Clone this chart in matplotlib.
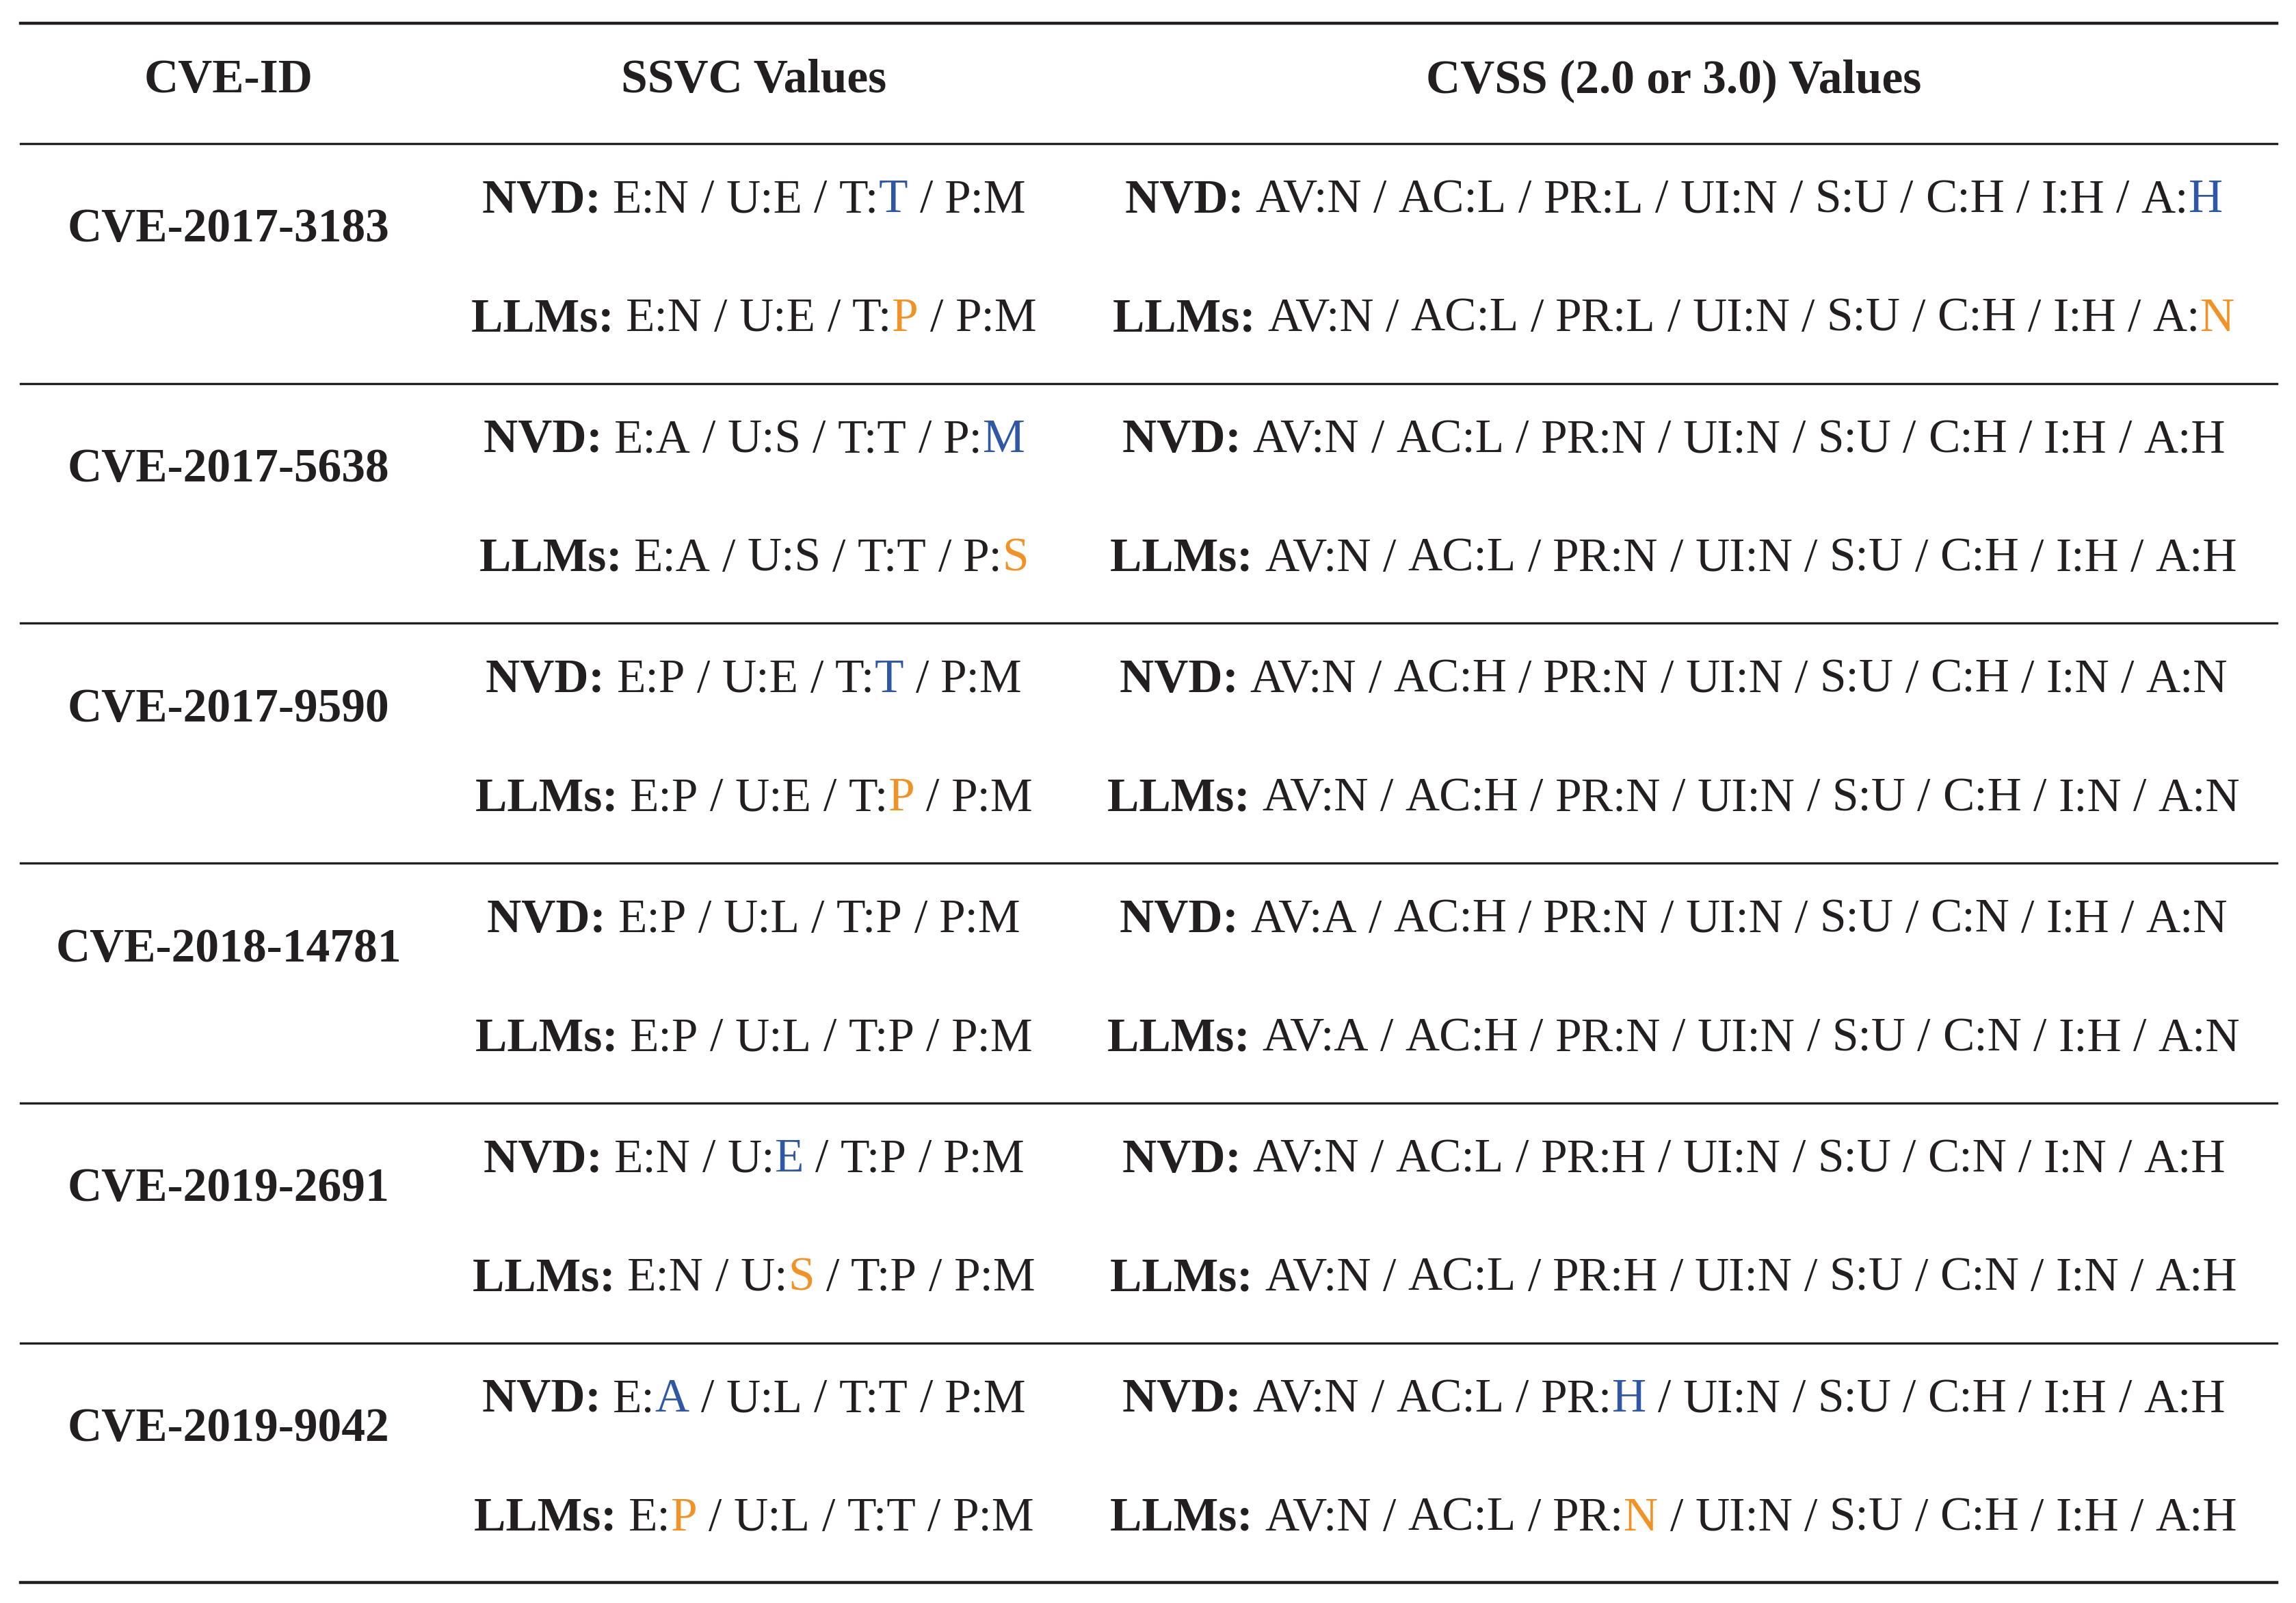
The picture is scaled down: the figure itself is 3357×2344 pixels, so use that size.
import matplotlib
matplotlib.use("Agg")
import matplotlib.pyplot as plt
from matplotlib.lines import Line2D

plt.rcParams['font.family'] = ['Liberation Serif', 'DejaVu Serif']

# -----------------------------------------------------------
# DATA
# -----------------------------------------------------------
headers = ["CVE-ID", "SSVC Values", "CVSS (2.0 or 3.0) Values"]
cve_ids = ["CVE-2017-3183", "CVE-2017-5638", "CVE-2017-9590",
           "CVE-2018-14781", "CVE-2019-2691", "CVE-2019-9042"]
ssvc_nvd = ["E:N/U:E/T:T/P:M", "E:A/U:S/T:T/P:M", "E:P/U:E/T:T/P:M",
            "E:P/U:L/T:P/P:M", "E:N/U:E/T:P/P:M", "E:A/U:L/T:T/P:M"]
ssvc_llm = ["E:N/U:E/T:P/P:M", "E:A/U:S/T:T/P:S", "E:P/U:E/T:P/P:M",
            "E:P/U:L/T:P/P:M", "E:N/U:S/T:P/P:M", "E:P/U:L/T:T/P:M"]
cvss_nvd = ["AV:N/AC:L/PR:L/UI:N/S:U/C:H/I:H/A:H",
            "AV:N/AC:L/PR:N/UI:N/S:U/C:H/I:H/A:H",
            "AV:N/AC:H/PR:N/UI:N/S:U/C:H/I:N/A:N",
            "AV:A/AC:H/PR:N/UI:N/S:U/C:N/I:H/A:N",
            "AV:N/AC:L/PR:H/UI:N/S:U/C:N/I:N/A:H",
            "AV:N/AC:L/PR:H/UI:N/S:U/C:H/I:H/A:H"]
cvss_llm = ["AV:N/AC:L/PR:L/UI:N/S:U/C:H/I:H/A:N",
            "AV:N/AC:L/PR:N/UI:N/S:U/C:H/I:H/A:H",
            "AV:N/AC:H/PR:N/UI:N/S:U/C:H/I:N/A:N",
            "AV:A/AC:H/PR:N/UI:N/S:U/C:N/I:H/A:N",
            "AV:N/AC:L/PR:H/UI:N/S:U/C:N/I:N/A:H",
            "AV:N/AC:L/PR:N/UI:N/S:U/C:H/I:H/A:H"]

BLACK = "#231f20"
BLUE = "#2e58a6"
ORANGE = "#f39224"
FS = 25
SLASH_GAP = 8.0   # extra space each side of a slash, reference px

W, H = 3357, 2344
fig = plt.figure(figsize=(W / 200, H / 200), dpi=200)
fig.patch.set_facecolor("white")
renderer = fig.canvas.get_renderer()

REF_W, REF_H = 1568, 1094   # layout coords measured on reference


def fx(x):
    return x / REF_W


def fy(y):
    return 1 - y / REF_H


def segments_for(label, value, other, color):
    segs = [(label + " ", "bold", BLACK)]
    parts = value.split("/")
    others = other.split("/")
    for i, (p, o) in enumerate(zip(parts, others)):
        key, val = p.split(":")
        if i > 0:
            segs.append(("/", "normal", BLACK))
        if val != o.split(":")[1]:
            segs.append((key + ":", "normal", BLACK))
            segs.append((val, "normal", color))
        else:
            segs.append((p, "normal", BLACK))
    return segs


def draw_line(xc, y, segs):
    texts = []
    widths = []
    for s, weight, color in segs:
        t = fig.text(0, fy(y), s, fontsize=FS, fontweight=weight, color=color,
                     va="center", ha="left")
        w = t.get_window_extent(renderer).width / W
        if s == "/":
            w += 2 * SLASH_GAP / REF_W
        texts.append(t)
        widths.append(w)
    total = sum(widths)
    x = fx(xc) - total / 2
    for t, w in zip(texts, widths):
        if t.get_text() == "/":
            t.set_x(x + SLASH_GAP / REF_W)
        else:
            t.set_x(x)
        x += w


def hline(y, lw=1.6):
    fig.add_artist(Line2D([fx(14), fx(1555)], [fy(y), fy(y)], color=BLACK, lw=lw))


col_x = [156, 515, 1143]

hline(16)
for x, h in zip(col_x, headers):
    fig.text(fx(x), fy(55), h, fontsize=FS, fontweight="bold", color=BLACK,
             ha="center", va="center")
hline(98, lw=1.2)

row_h = 163.7
for i, cid in enumerate(cve_ids):
    top = 98 + i * row_h
    fig.text(fx(col_x[0]), fy(top + 59), cid, fontsize=FS, fontweight="bold",
             color=BLACK, ha="center", va="center")
    draw_line(col_x[1], top + 39, segments_for("NVD:", ssvc_nvd[i], ssvc_llm[i], BLUE))
    draw_line(col_x[1], top + 120, segments_for("LLMs:", ssvc_llm[i], ssvc_nvd[i], ORANGE))
    draw_line(col_x[2], top + 39, segments_for("NVD:", cvss_nvd[i], cvss_llm[i], BLUE))
    draw_line(col_x[2], top + 120, segments_for("LLMs:", cvss_llm[i], cvss_nvd[i], ORANGE))
    hline(top + row_h, lw=1.6 if i == len(cve_ids) - 1 else 1.2)

fig.savefig("out.png", dpi=200)
